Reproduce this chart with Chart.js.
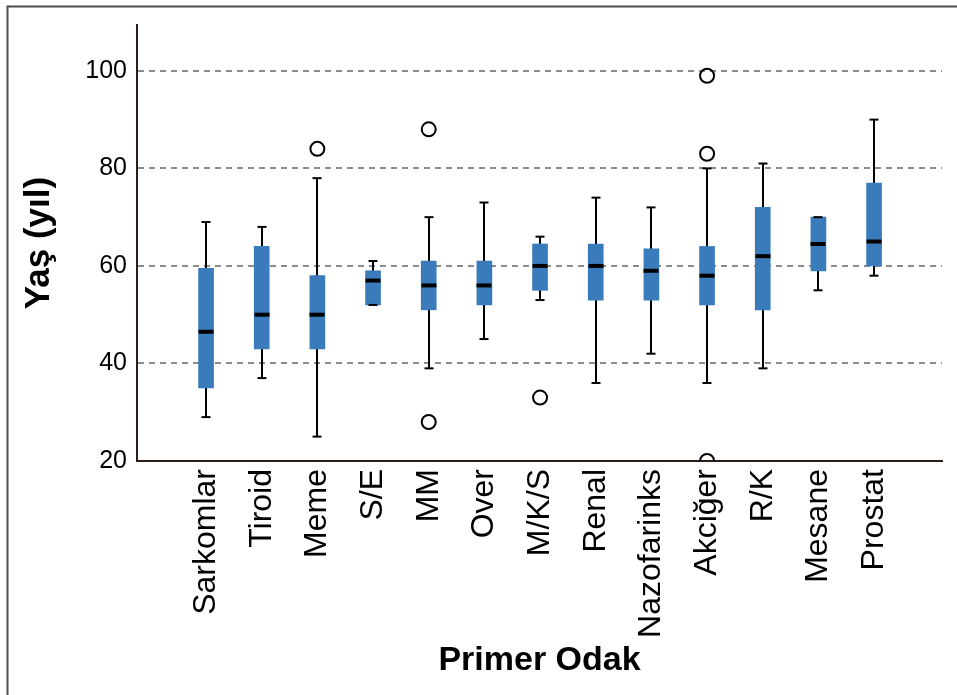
<!DOCTYPE html>
<html>
<head>
<meta charset="utf-8">
<script src="https://cdn.jsdelivr.net/npm/chart.js@4"></script>
<style>
    body { margin: 0; background: #fff; }
    #chart-wrap { width: 957px; height: 695px; }
</style>
</head>
<body>
<div id="chart-wrap"><canvas id="boxChart" width="957" height="695"></canvas></div>
<script>
// --- Data ---
const categories = ['Sarkomlar', 'Tiroid', 'Meme', 'S/E', 'MM', 'Over', 'M/K/S', 'Renal', 'Nazofarinks', 'Akciğer', 'R/K', 'Mesane', 'Prostat'];
const whiskerLow = [29, 37, 25, 52, 39, 45, 53, 36, 42, 36, 39, 55, 58];
const q1 = [35, 43, 43, 52, 51, 52, 55, 53, 53, 52, 51, 59, 60];
const medians = [46.5, 50, 50, 57, 56, 56, 60, 60, 59, 58, 62, 64.5, 65];
const q3 = [59.5, 64, 58, 59, 61, 61, 64.5, 64.5, 63.5, 64, 72, 70, 77];
const whiskerHigh = [69, 68, 78, 61, 70, 73, 66, 74, 72, 80, 81, 70, 90];

// outliers: category index + value
const outlierCat = [2, 4, 4, 6, 9, 9, 9];
const outlierVal = [84, 88, 28, 33, 99, 83, 20];

const yTicks = [20, 40, 60, 80, 100];

const BOX_COLOR = '#3a7cbb';
const AXIS_COLOR = '#2b1d17';
const BOX_WIDTH = 15;
const CAP_WIDTH = 9;
const FONT = "'Liberation Sans', Arial, sans-serif";

// --- Plugins ---
const framePlugin = {
    id: 'frame',
    beforeDraw(chart) {
        const ctx = chart.ctx;
        ctx.save();
        ctx.fillStyle = '#fff';
        ctx.fillRect(0, 0, chart.width, chart.height);
        ctx.strokeStyle = '#4d4d4d';
        ctx.lineWidth = 2;
        ctx.beginPath();
        ctx.moveTo(7.5, chart.height);
        ctx.lineTo(7.5, 6.5);
        ctx.lineTo(chart.width, 6.5);
        ctx.stroke();
        ctx.restore();
    }
};

const boxPartsPlugin = {
    id: 'boxParts',
    beforeDatasetsDraw(chart) {
        // whisker stems, behind the boxes
        const { ctx, scales: { x, y } } = chart;
        ctx.save();
        ctx.strokeStyle = '#000';
        ctx.lineWidth = 2;
        categories.forEach((c, i) => {
            const px = Math.round(x.getPixelForValue(i));
            ctx.beginPath();
            ctx.moveTo(px, y.getPixelForValue(whiskerLow[i]));
            ctx.lineTo(px, y.getPixelForValue(whiskerHigh[i]));
            ctx.stroke();
        });
        ctx.restore();
    },
    afterDatasetsDraw(chart) {
        // caps and median bars
        const { ctx, scales: { x, y } } = chart;
        ctx.save();
        ctx.strokeStyle = '#000';
        categories.forEach((c, i) => {
            const px = Math.round(x.getPixelForValue(i));
            ctx.lineWidth = 2;
            [whiskerLow[i], whiskerHigh[i]].forEach(v => {
                const py = y.getPixelForValue(v);
                ctx.beginPath();
                ctx.moveTo(px - CAP_WIDTH / 2, py);
                ctx.lineTo(px + CAP_WIDTH / 2, py);
                ctx.stroke();
            });
            ctx.lineWidth = 4;
            const my = y.getPixelForValue(medians[i]);
            ctx.beginPath();
            ctx.moveTo(px - BOX_WIDTH / 2, my);
            ctx.lineTo(px + BOX_WIDTH / 2, my);
            ctx.stroke();
        });
        ctx.restore();
    }
};

// --- Chart ---
const ctx = document.getElementById('boxChart').getContext('2d');

new Chart(ctx, {
    type: 'bar',
    data: {
        datasets: [{
            label: 'IQR',
            data: categories.map((c, i) => ({ x: i, y: [q1[i], q3[i]] })),
            backgroundColor: BOX_COLOR,
            borderWidth: 0,
            barThickness: BOX_WIDTH,
            grouped: false
        }, {
            type: 'line',
            label: 'Outliers',
            data: outlierCat.map((c, i) => ({ x: c, y: outlierVal[i] })),
            showLine: false,
            pointRadius: 7,
            pointBorderWidth: 2,
            pointBorderColor: '#000',
            pointBackgroundColor: 'rgba(255,255,255,0)'
        }]
    },
    options: {
        responsive: false,
        animation: false,
        devicePixelRatio: 1,
        events: [],
        layout: {
            padding: { left: 0, right: 15, top: 23, bottom: 0 }
        },
        plugins: {
            legend: { display: false },
            tooltip: { enabled: false }
        },
        scales: {
            x: {
                type: 'linear',
                offset: false,
                min: -1.24,
                max: 13.22,
                afterBuildTicks: scale => {
                    scale.ticks = categories.map((c, i) => ({ value: i }));
                },
                afterFit: scale => { scale.height = 234; },
                grid: { display: false, drawTicks: false },
                border: { color: AXIS_COLOR, width: 2 },
                ticks: {
                    autoSkip: false,
                    maxRotation: 90,
                    minRotation: 90,
                    padding: 8,
                    color: '#000',
                    font: { family: FONT, size: 32 },
                    callback: v => categories[v]
                },
                title: {
                    display: true,
                    text: 'Primer Odak',
                    color: '#000',
                    font: { family: FONT, size: 34, weight: 'bold' },
                    padding: { top: 0, bottom: 14 }
                }
            },
            y: {
                min: 20,
                max: 109.4,
                afterBuildTicks: scale => {
                    scale.ticks = yTicks.map(v => ({ value: v }));
                },
                afterFit: scale => { scale.width = 137; },
                grid: {
                    color: c => (c.tick && c.tick.value === 20) ? 'rgba(0,0,0,0)' : '#8c8c8c',
                    lineWidth: 2,
                    drawTicks: false
                },
                border: { color: AXIS_COLOR, width: 2, dash: [6, 5] },
                ticks: {
                    padding: 10,
                    color: '#000',
                    font: { family: FONT, size: 25 },
                    callback: v => String(v)
                },
                title: {
                    display: true,
                    text: 'Yaş (yıl)',
                    color: '#000',
                    font: { family: FONT, size: 35, weight: 'bold' },
                    padding: { top: 18, bottom: 0 }
                }
            }
        }
    },
    plugins: [framePlugin, boxPartsPlugin]
});
</script>
</body>
</html>
